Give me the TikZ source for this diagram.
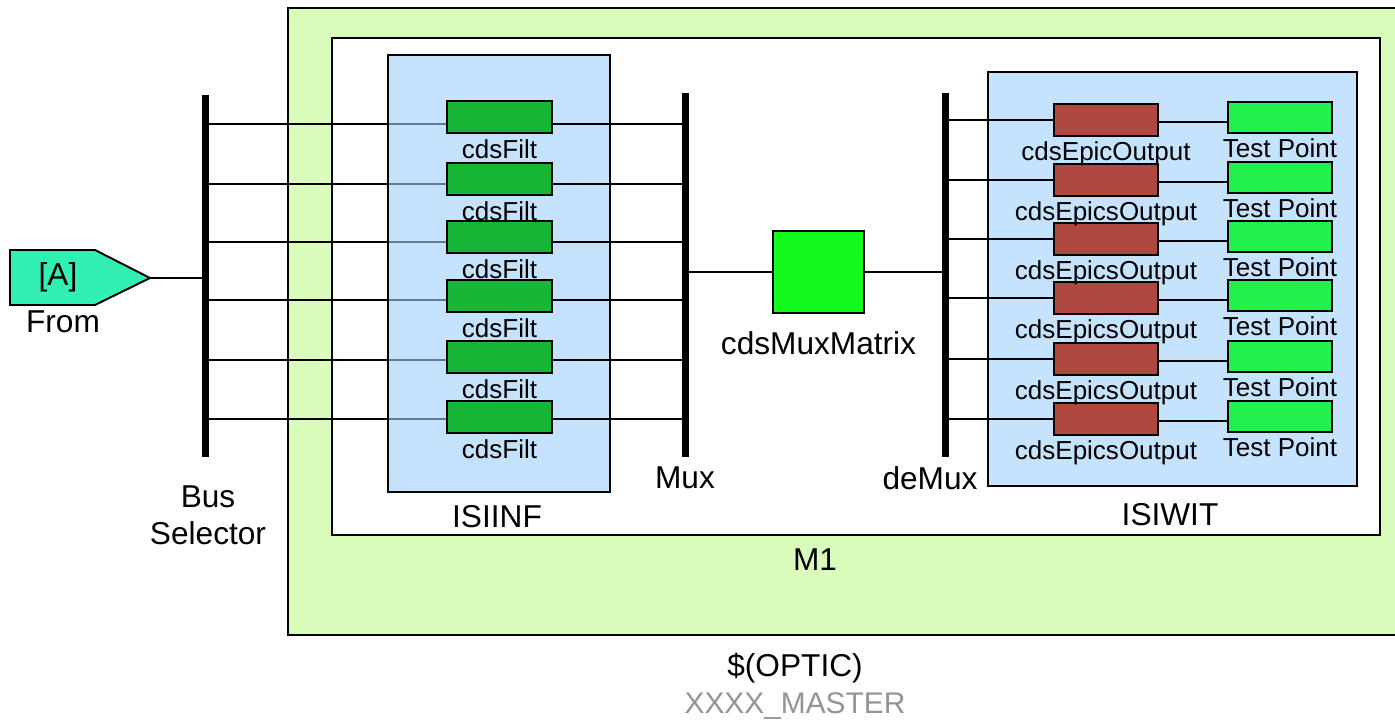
\documentclass[tikz,border=0pt]{standalone}
\usepackage{fontspec}
\setmainfont{Liberation Sans}
\usetikzlibrary{positioning}

\definecolor{modelgreen}{RGB}{217,252,186}
\definecolor{subblue}{RGB}{197,227,252}
\definecolor{subbluedeep}{RGB}{158,208,250}
\definecolor{filtgreen}{RGB}{23,182,55}
\definecolor{muxgreen}{RGB}{18,250,30}
\definecolor{epicred}{RGB}{176,72,66}
\definecolor{tpgreen}{RGB}{34,240,76}
\definecolor{fromcyan}{RGB}{50,240,180}

\tikzset{
  blk/.style={draw,line width=1.1pt,inner sep=0pt},
  filt/.style={blk,fill=filtgreen,minimum width=2.1cm,minimum height=0.64cm},
  epic/.style={blk,fill=epicred,minimum width=2.08cm,minimum height=0.64cm},
  tpoint/.style={blk,fill=tpgreen,minimum width=2.08cm,minimum height=0.62cm},
  busbar/.style={fill=black,inner sep=0pt,minimum width=0.13cm},
  wire/.style={line width=0.9pt},
  lbl/.style={font=\fontsize{14.8}{15}\selectfont,inner sep=0pt},
  biglbl/.style={font=\fontsize{18}{21}\selectfont,inner sep=0pt,align=center}
}

\begin{document}
\begin{tikzpicture}[x=0.02cm,y=-0.02cm]
\useasboundingbox (0,0) rectangle (1395,723);

% model and subsystem frames
\path[draw,line width=1.1pt,fill=modelgreen] (288,8) rectangle (1398,635);
\path[draw,line width=1.1pt,fill=white] (332,38) rectangle (1380,535);
\node[biglbl] (m1) at (815,560) {M1};
\node[biglbl] (optic) at (795,668) {\$(OPTIC)};
\node[biglbl,text=black!42,font=\fontsize{17}{20}\selectfont] (master) at (795,706) {XXXX\_MASTER};

% From block
\path[draw,line width=1.1pt,fill=fromcyan] (10,250) -- (95,250) -- (150,278) -- (95,305) -- (10,305) -- cycle;
\coordinate (fromout) at (150,278);
\node[biglbl] (fromtag) at (58,277) {[A]};
\node[biglbl] (fromlbl) at (63,322) {From};

% buses
\node[busbar,minimum height=7.24cm] (bus) at (205.5,276) {};
\node[busbar,minimum height=7.28cm] (mux) at (685.5,275) {};
\node[busbar,minimum height=7.28cm] (demux) at (945.5,275) {};
\node[biglbl] (buslbl) at (208,515) {Bus\\Selector};
\node[biglbl] (muxlbl) at (685,478) {Mux};
\node[biglbl] (demuxlbl) at (930,478) {deMux};
\draw[wire] (fromout) -- (bus.west |- fromout);

% ports of the filters
\coordinate (p1) at (447,124);
\coordinate (p2) at (447,184);
\coordinate (p3) at (447,242);
\coordinate (p4) at (447,300);
\coordinate (p5) at (447,360);
\coordinate (p6) at (447,419);
\draw[wire] (bus.east |- p1) -- (p1);
\draw[wire] (bus.east |- p2) -- (p2);
\draw[wire] (bus.east |- p3) -- (p3);
\draw[wire] (bus.east |- p4) -- (p4);
\draw[wire] (bus.east |- p5) -- (p5);
\draw[wire] (bus.east |- p6) -- (p6);

% ISIINF (lines show through it)
\path[fill=subbluedeep,fill opacity=0.6] (388,55) rectangle (610,492);
\path[draw,line width=1.1pt] (388,55) rectangle (610,492);
\node[biglbl] (isiinf) at (497,517) {ISIINF};

\node[filt] (f1) at (499.5,117) {};
\node[filt] (f2) at (499.5,179) {};
\node[filt] (f3) at (499.5,237) {};
\node[filt] (f4) at (499.5,296) {};
\node[filt] (f5) at (499.5,357) {};
\node[filt] (f6) at (499.5,417) {};
\node[lbl,below=3pt of f1] {cdsFilt};
\node[lbl,below=3pt of f2] {cdsFilt};
\node[lbl,below=3pt of f3] {cdsFilt};
\node[lbl,below=3pt of f4] {cdsFilt};
\node[lbl,below=3pt of f5] {cdsFilt};
\node[lbl,below=3pt of f6] {cdsFilt};
\draw[wire] (f1.east |- p1) -- (mux.west |- p1);
\draw[wire] (f2.east |- p2) -- (mux.west |- p2);
\draw[wire] (f3.east |- p3) -- (mux.west |- p3);
\draw[wire] (f4.east |- p4) -- (mux.west |- p4);
\draw[wire] (f5.east |- p5) -- (mux.west |- p5);
\draw[wire] (f6.east |- p6) -- (mux.west |- p6);

% matrix
\node[blk,fill=muxgreen,minimum width=1.82cm,minimum height=1.64cm] (matrix) at (818.5,272) {};
\node[biglbl,below=10pt of matrix] (matrixlbl) {cdsMuxMatrix};
\draw[wire] (mux.east |- matrix) -- (matrix.west);
\draw[wire] (matrix.east) -- (demux.west |- matrix);

% ISIWIT
\path[draw,line width=1.1pt,fill=subblue] (988,72) rectangle (1357,486);
\node[biglbl] (isiwit) at (1170,515) {ISIWIT};

\node[epic] (e1) at (1106,120) {};
\node[epic] (e2) at (1106,180) {};
\node[epic] (e3) at (1106,239) {};
\node[epic] (e4) at (1106,298) {};
\node[epic] (e5) at (1106,359) {};
\node[epic] (e6) at (1106,419) {};
\node[lbl,below=2.2pt of e1] {cdsEpicOutput};
\node[lbl,below=2.2pt of e2] {cdsEpicsOutput};
\node[lbl,below=2.2pt of e3] {cdsEpicsOutput};
\node[lbl,below=2.2pt of e4] {cdsEpicsOutput};
\node[lbl,below=2.2pt of e5] {cdsEpicsOutput};
\node[lbl,below=2.2pt of e6] {cdsEpicsOutput};

\node[tpoint] (t1) at (1280,117.5) {};
\node[tpoint] (t2) at (1280,177.5) {};
\node[tpoint] (t3) at (1280,236.5) {};
\node[tpoint] (t4) at (1280,295.5) {};
\node[tpoint] (t5) at (1280,356.5) {};
\node[tpoint] (t6) at (1280,416.5) {};
\node[lbl,below=2.7pt of t1] {Test Point};
\node[lbl,below=2.7pt of t2] {Test Point};
\node[lbl,below=2.7pt of t3] {Test Point};
\node[lbl,below=2.7pt of t4] {Test Point};
\node[lbl,below=2.7pt of t5] {Test Point};
\node[lbl,below=2.7pt of t6] {Test Point};

\draw[wire] (demux.east |- e1) -- (e1.west);
\draw[wire] (demux.east |- e2) -- (e2.west);
\draw[wire] (demux.east |- e3) -- (e3.west);
\draw[wire] (demux.east |- e4) -- (e4.west);
\draw[wire] (demux.east |- e5) -- (e5.west);
\draw[wire] (demux.east |- e6) -- (e6.west);
\draw[wire] ([yshift=-0.04cm]e1.east) -- ([yshift=-0.04cm]e1.east -| t1.west);
\draw[wire] ([yshift=-0.04cm]e2.east) -- ([yshift=-0.04cm]e2.east -| t2.west);
\draw[wire] ([yshift=-0.04cm]e3.east) -- ([yshift=-0.04cm]e3.east -| t3.west);
\draw[wire] ([yshift=-0.04cm]e4.east) -- ([yshift=-0.04cm]e4.east -| t4.west);
\draw[wire] ([yshift=-0.04cm]e5.east) -- ([yshift=-0.04cm]e5.east -| t5.west);
\draw[wire] ([yshift=-0.04cm]e6.east) -- ([yshift=-0.04cm]e6.east -| t6.west);
\end{tikzpicture}
\end{document}
